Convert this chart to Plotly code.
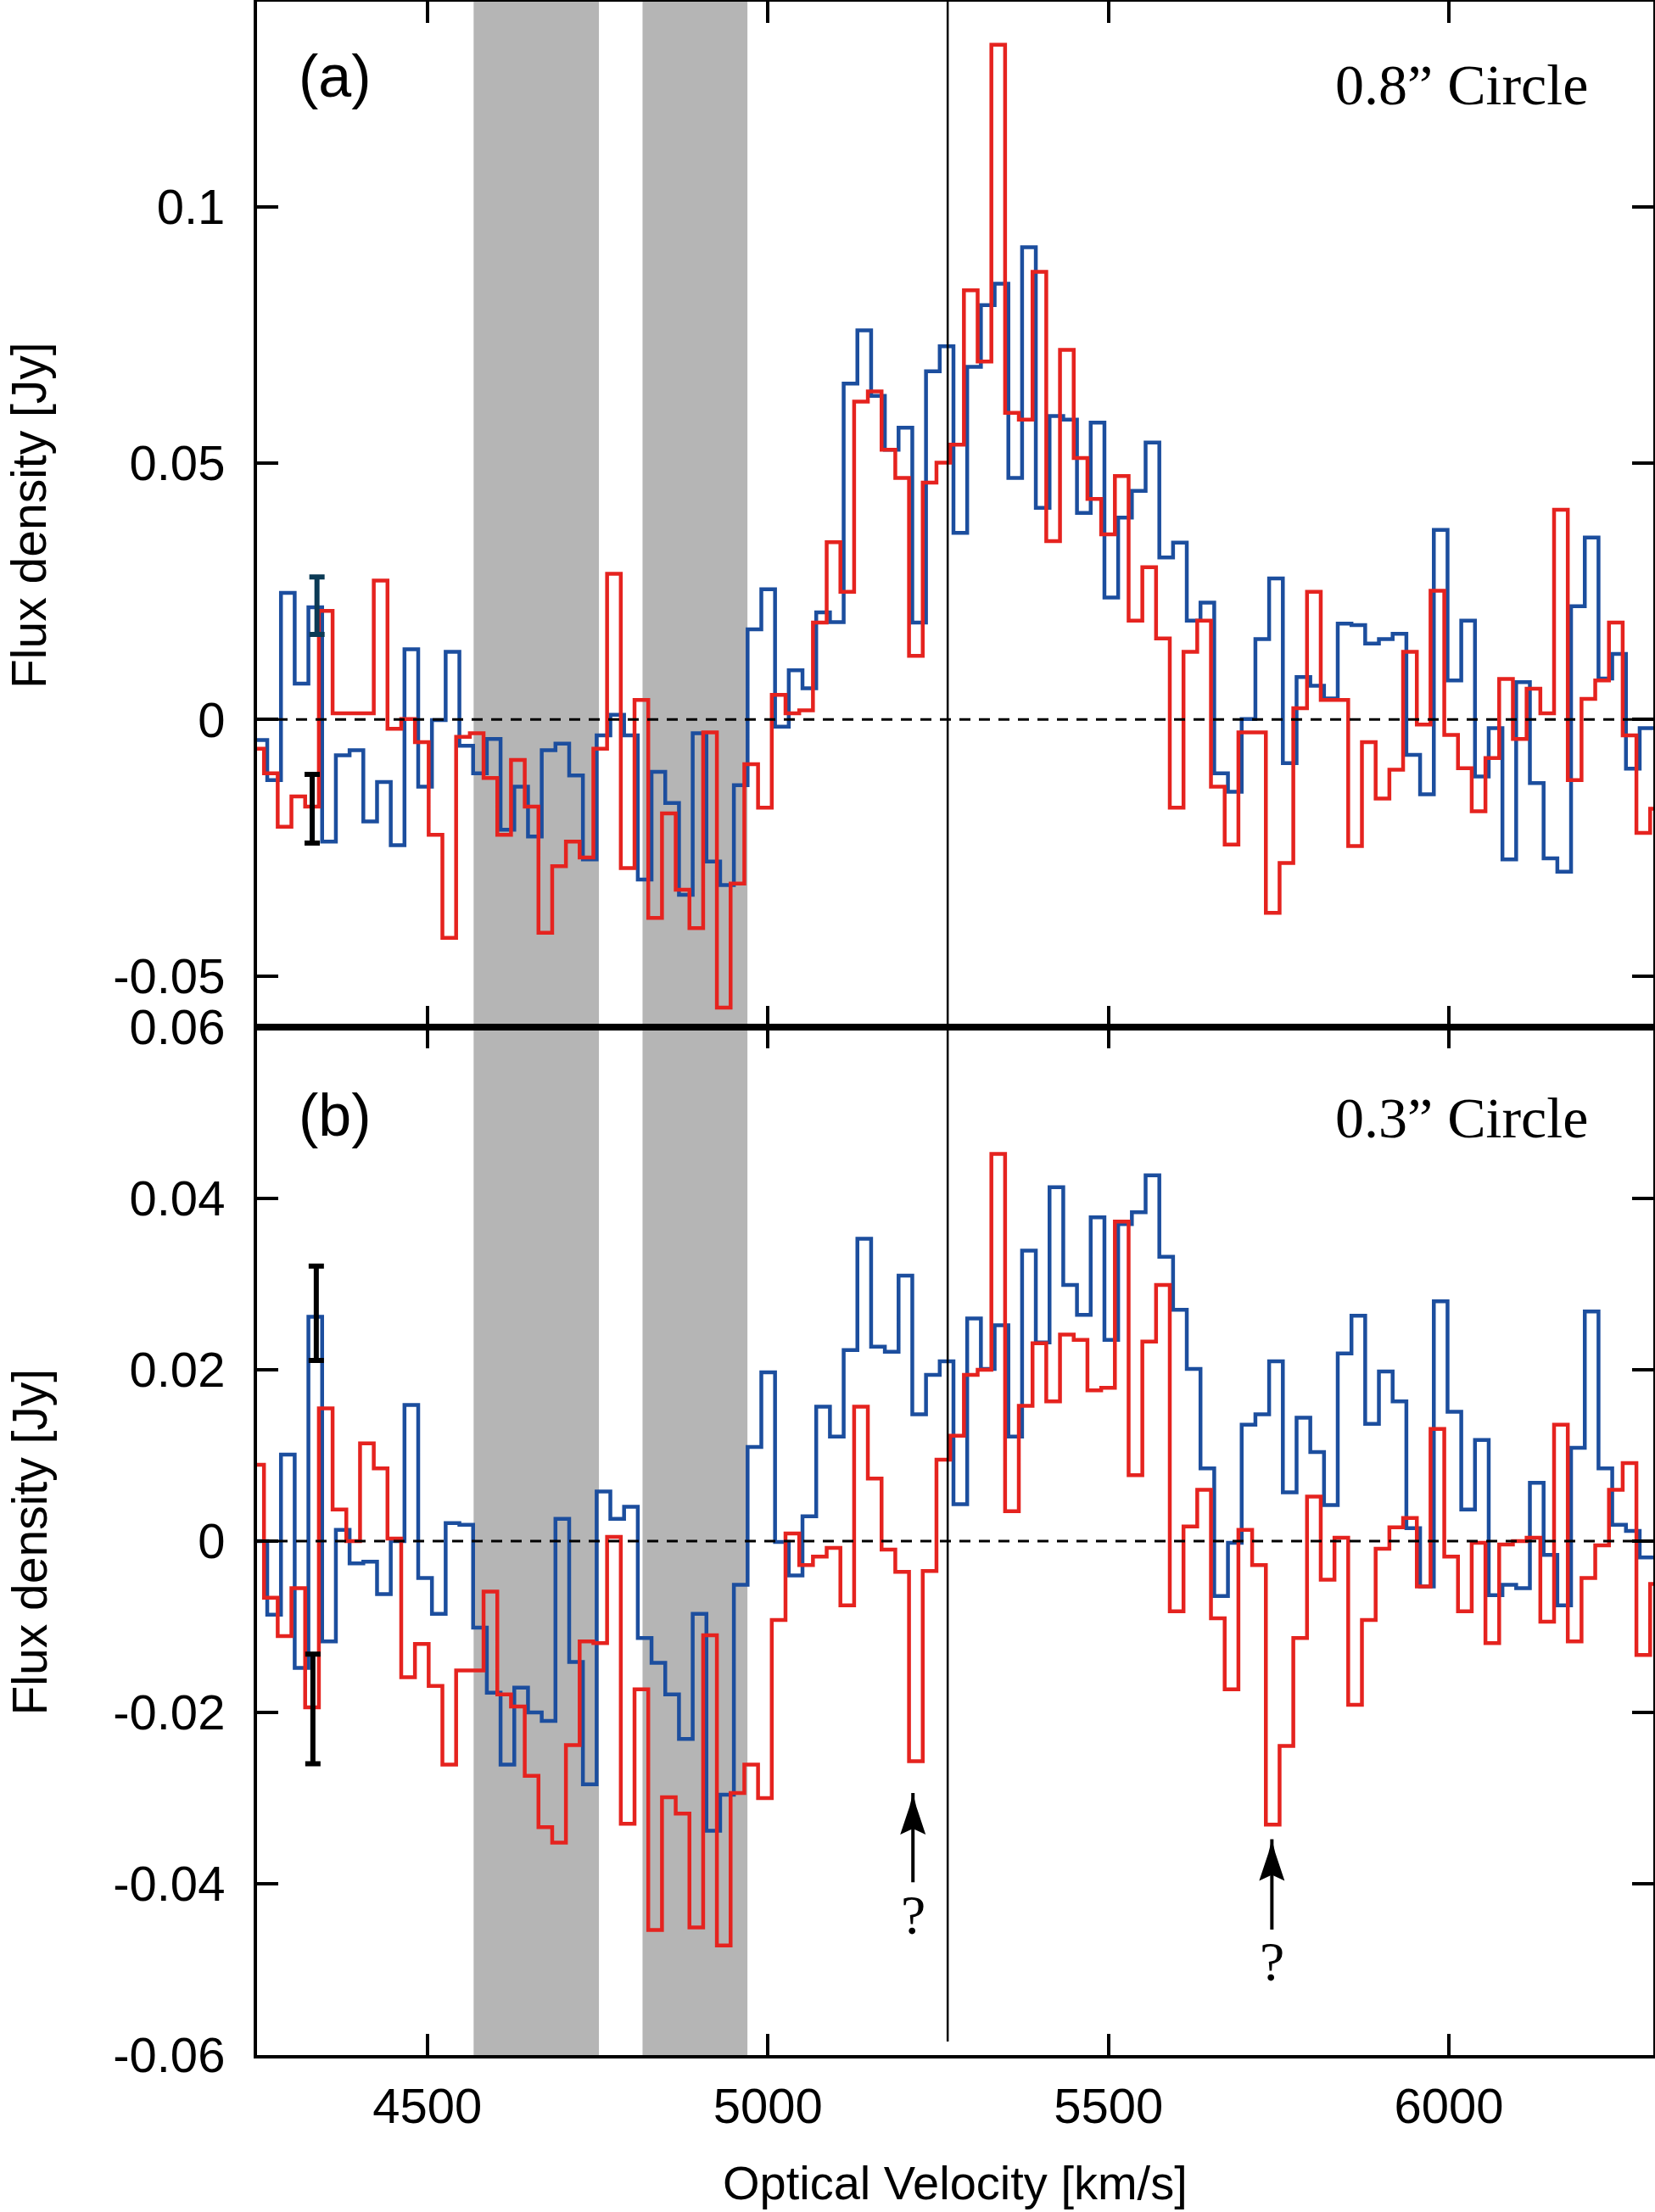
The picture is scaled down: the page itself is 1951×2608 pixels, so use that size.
import numpy as np
import plotly.graph_objects as go

# channel grid (optical velocity, km/s)
DV = 20.15
BLUE_START = 4244.85
RED_START = 4240.05

# (a) 0.8" circle
top_blue = [
    -0.0040, -0.0118, 0.0247, 0.0070, 0.0219, -0.0238, -0.0070, -0.0060, -0.0199, -0.0122,
    -0.0245, 0.0137, -0.0131, -0.0001, 0.0132, -0.0051, -0.0105, -0.0038, -0.0215, -0.0131,
    -0.0228, -0.0060, -0.0047, -0.0109, -0.0273, -0.0031, 0.0009, -0.0031, -0.0312, -0.0102,
    -0.0163, -0.0342, -0.0027, -0.0277, -0.0323, -0.0128, 0.0176, 0.0254, -0.0014, 0.0096,
    0.0061, 0.0209, 0.0190, 0.0655, 0.0759, 0.0631, 0.0526, 0.0569, 0.0189, 0.0679,
    0.0728, 0.0364, 0.0688, 0.0808, 0.0850, 0.0471, 0.0921, 0.0413, 0.0592, 0.0585,
    0.0403, 0.0579, 0.0238, 0.0394, 0.0446, 0.0540, 0.0316, 0.0345, 0.0193, 0.0228,
    -0.0105, -0.0141, 0.0001, 0.0157, 0.0275, -0.0085, 0.0083, 0.0066, 0.0041, 0.0187,
    0.0184, 0.0148, 0.0157, 0.0167, -0.0069, -0.0146, 0.0370, 0.0076, 0.0193, -0.0111,
    -0.0017, -0.0273, 0.0073, -0.0124, -0.0271, -0.0297, 0.0221, 0.0355, 0.0080, 0.0128,
    -0.0096, -0.0017,
]
top_red = [
    -0.0057, -0.0105, -0.0209, -0.0150, -0.0170, 0.0212, 0.0012, 0.0012, 0.0012, 0.0271,
    -0.0018, 0.0001, -0.0044, -0.0225, -0.0426, -0.0034, -0.0027, -0.0114, -0.0225, -0.0079,
    -0.0170, -0.0416, -0.0286, -0.0238, -0.0269, -0.0057, 0.0284, -0.0290, 0.0038, -0.0387,
    -0.0183, -0.0332, -0.0407, -0.0025, -0.0562, -0.0320, -0.0087, -0.0172, 0.0048, 0.0012,
    0.0018, 0.0189, 0.0346, 0.0249, 0.0620, 0.0640, 0.0526, 0.0471, 0.0124, 0.0462,
    0.0501, 0.0536, 0.0837, 0.0698, 0.1316, 0.0598, 0.0585, 0.0873, 0.0348, 0.0721,
    0.0510, 0.0430, 0.0361, 0.0475, 0.0193, 0.0297, 0.0158, -0.0172, 0.0132, 0.0193,
    -0.0131, -0.0244, -0.0025, -0.0025, -0.0377, -0.0280, 0.0022, 0.0249, 0.0038, 0.0038,
    -0.0247, -0.0044, -0.0154, -0.0098, 0.0132, -0.0010, 0.0251, -0.0030, -0.0095, -0.0179,
    -0.0075, 0.0079, -0.0038, 0.0060, 0.0012, 0.0409, -0.0118, 0.0040, 0.0076, 0.0189,
    -0.0031, -0.0221, -0.0174,
]

# (b) 0.3" circle
bot_blue = [
    0.0000, -0.0086, 0.0101, -0.0148, 0.0262, -0.0117, 0.0013, -0.0026, -0.0024, -0.0062,
    0.0000, 0.0159, -0.0043, -0.0085, 0.0021, 0.0019, -0.0101, -0.0177, -0.0261, -0.0171,
    -0.0200, -0.0210, 0.0026, -0.0141, -0.0284, 0.0058, 0.0026, 0.0040, -0.0113, -0.0142,
    -0.0179, -0.0231, -0.0085, -0.0338, -0.0296, -0.0051, 0.0110, 0.0197, -0.0001, -0.0040,
    0.0029, 0.0157, 0.0122, 0.0223, 0.0353, 0.0227, 0.0221, 0.0310, 0.0148, 0.0194,
    0.0210, 0.0043, 0.0260, 0.0201, 0.0252, 0.0122, 0.0339, 0.0232, 0.0413, 0.0299,
    0.0264, 0.0378, 0.0235, 0.0370, 0.0384, 0.0427, 0.0332, 0.0270, 0.0201, 0.0085,
    -0.0064, -0.0002, 0.0136, 0.0148, 0.0210, 0.0057, 0.0144, 0.0104, 0.0042, 0.0219,
    0.0263, 0.0137, 0.0198, 0.0163, 0.0015, -0.0053, 0.0280, 0.0151, 0.0037, 0.0118,
    -0.0063, -0.0051, -0.0055, 0.0068, -0.0016, -0.0075, 0.0109, 0.0268, 0.0085, 0.0019,
    0.0012, -0.0019,
]
bot_red = [
    0.0089, -0.0066, -0.0111, -0.0055, -0.0194, 0.0155, 0.0037, 0.0000, 0.0114, 0.0085,
    0.0003, -0.0159, -0.0120, -0.0169, -0.0261, -0.0151, -0.0151, -0.0059, -0.0179, -0.0193,
    -0.0274, -0.0334, -0.0352, -0.0238, -0.0117, -0.0119, 0.0005, -0.0330, -0.0173, -0.0454,
    -0.0299, -0.0318, -0.0451, -0.0110, -0.0472, -0.0294, -0.0261, -0.0300, -0.0092, 0.0009,
    -0.0028, -0.0018, -0.0008, -0.0075, 0.0157, 0.0073, -0.0010, -0.0036, -0.0257, -0.0035,
    0.0095, 0.0123, 0.0194, 0.0200, 0.0452, 0.0035, 0.0158, 0.0231, 0.0163, 0.0241,
    0.0235, 0.0176, 0.0179, 0.0373, 0.0077, 0.0233, 0.0299, -0.0082, 0.0017, 0.0060,
    -0.0090, -0.0173, 0.0013, -0.0028, -0.0331, -0.0239, -0.0113, 0.0052, -0.0045, 0.0004,
    -0.0191, -0.0092, -0.0009, 0.0016, 0.0027, -0.0053, 0.0131, -0.0018, -0.0082, -0.0002,
    -0.0119, -0.0004, 0.0000, 0.0004, -0.0094, 0.0136, -0.0117, -0.0043, -0.0005, 0.0060,
    0.0091, -0.0133, -0.0050,
]

# masked velocity ranges, systemic velocity
bands = [(4568, 4752), (4816, 4970)]
v_sys = 5264

# error bars: x, y centre, half length
top_err_x = [4338, 4331]
top_err_y = [0.0222, -0.0174]
top_err_h = [0.0056, 0.0067]
top_err_c = ["#0b3a55", "#000000"]
bot_err_x = [4337, 4332]
bot_err_y = [0.0266, -0.0196]
bot_err_h = [0.0055, 0.0064]

# "?" marks: tip of arrow and label position
q_tip_x = [5213, 5740]
q_tip_y = [-0.0294, -0.0348]
q_lab_y = [-0.0436, -0.0491]

BLUE = "#1c4e9e"
RED = "#e5231f"
SANS = "Liberation Sans, Arial, sans-serif"
SERIF = "Liberation Serif, Times New Roman, serif"

# barbed arrow head, pixels relative to the tip
HEAD = "M0,0 L-4,-16 L-15,-49 L0,-42 L15,-49 L4,-16 Z"


def steps(vals, start):
    edges = start + DV * np.arange(len(vals) + 1)
    return edges, list(vals) + [vals[-1]]


fig = go.Figure()

for vals, start, color, xa, ya in [
    (top_blue, BLUE_START, BLUE, "x2", "y2"),
    (top_red, RED_START, RED, "x2", "y2"),
    (bot_blue, BLUE_START, BLUE, "x", "y"),
    (bot_red, RED_START, RED, "x", "y"),
]:
    ex, ey = steps(vals, start)
    fig.add_trace(go.Scatter(x=ex, y=ey, mode="lines", line_shape="hv",
                             line=dict(color=color, width=4.5),
                             xaxis=xa, yaxis=ya, showlegend=False))

for i in range(2):
    fig.add_trace(go.Scatter(
        x=[top_err_x[i]], y=[top_err_y[i]], mode="markers",
        marker=dict(size=1, color="rgba(0,0,0,0)"),
        error_y=dict(type="data", array=[top_err_h[i]], color=top_err_c[i],
                     thickness=6, width=9),
        xaxis="x2", yaxis="y2", showlegend=False))
    fig.add_trace(go.Scatter(
        x=[bot_err_x[i]], y=[bot_err_y[i]], mode="markers",
        marker=dict(size=1, color="rgba(0,0,0,0)"),
        error_y=dict(type="data", array=[bot_err_h[i]], color="#000000",
                     thickness=6, width=9),
        xaxis="x", yaxis="y", showlegend=False))

shapes = []
for b0, b1 in bands:
    shapes.append(dict(type="rect", xref="x", yref="paper", x0=b0, x1=b1, y0=0, y1=1,
                       fillcolor="#b5b5b5", line=dict(width=0), layer="below"))
shapes.append(dict(type="line", xref="x", yref="paper", x0=v_sys, x1=v_sys,
                   y0=0.0066, y1=1, line=dict(color="black", width=2.5)))
for ya in ["y", "y2"]:
    shapes.append(dict(type="line", xref="paper", yref=ya, x0=0, x1=1, y0=0, y1=0,
                       line=dict(color="black", width=3, dash="13px,10px")))
for tx, ty in zip(q_tip_x, q_tip_y):
    shapes.append(dict(type="path", xref="x", yref="y", xsizemode="pixel",
                       ysizemode="pixel", xanchor=tx, yanchor=ty, path=HEAD,
                       fillcolor="black", line=dict(width=0)))

annotations = [
    dict(text="(a)", x=4308, y=0.1255, xref="x2", yref="y2", xanchor="left",
         yanchor="middle", showarrow=False, font=dict(family=SANS, size=70, color="black")),
    dict(text="(b)", x=4308, y=0.0497, xref="x", yref="y", xanchor="left",
         yanchor="middle", showarrow=False, font=dict(family=SANS, size=70, color="black")),
    dict(text="0.8\u201d Circle", x=6206, y=0.1238, xref="x2", yref="y2", xanchor="right",
         yanchor="middle", showarrow=False, font=dict(family=SERIF, size=68, color="black")),
    dict(text="0.3\u201d Circle", x=6206, y=0.0494, xref="x", yref="y", xanchor="right",
         yanchor="middle", showarrow=False, font=dict(family=SERIF, size=68, color="black")),
    dict(text="Optical Velocity [km/s]", x=0.5, y=-0.062, xref="paper", yref="paper",
         xanchor="center", yanchor="middle", showarrow=False,
         font=dict(family=SANS, size=56, color="black")),
]
for yc in [0.75, 0.25]:
    annotations.append(dict(text="Flux density [Jy]", x=-0.163, y=yc, xref="paper",
                            yref="paper", xanchor="center", yanchor="middle",
                            textangle=-90, showarrow=False,
                            font=dict(family=SANS, size=57, color="black")))
for tx, ty, ly in zip(q_tip_x, q_tip_y, q_lab_y):
    annotations.append(dict(text="?", x=tx, y=ty, ax=tx, ay=ly, xref="x", yref="y",
                            axref="x", ayref="y", showarrow=True, arrowhead=0,
                            arrowwidth=4, arrowcolor="black",
                            font=dict(family=SERIF, size=66, color="black")))

axis_common = dict(showline=True, linewidth=4, linecolor="black", mirror="ticks",
                   ticks="inside", ticklen=25, tickwidth=3.5, tickcolor="black",
                   showgrid=False, zeroline=False, automargin=False,
                   tickfont=dict(family=SANS, size=58, color="black"))

split = 1212 / 2421

fig.update_layout(
    width=1951, height=2608, autosize=False,
    margin=dict(l=303, r=2, t=2, b=185, autoexpand=False),
    plot_bgcolor="white", paper_bgcolor="white",
    shapes=shapes, annotations=annotations,
    xaxis=dict(axis_common, range=[4250, 6300], anchor="y",
               tickvals=[4500, 5000, 5500, 6000], ticklabelstandoff=6),
    xaxis2=dict(axis_common, range=[4250, 6300], anchor="y2", matches="x",
                tickvals=[4500, 5000, 5500, 6000], showticklabels=False),
    yaxis=dict(axis_common, domain=[0, split], range=[-0.06, 0.06], anchor="x",
               tickvals=[-0.06, -0.04, -0.02, 0, 0.02, 0.04, 0.06],
               ticktext=["-0.06", "-0.04", "-0.02", "0", "0.02", "0.04", "0.06"],
               ticklabelstandoff=22),
    yaxis2=dict(axis_common, domain=[split, 1], range=[-0.06, 0.14], anchor="x2",
                tickvals=[-0.05, 0, 0.05, 0.1],
                ticktext=["-0.05", "0", "0.05", "0.1"], ticklabelstandoff=22),
)

# the page body has a default 8px margin; drop it so the figure sits at the corner
fig.write_html("out.html", config={"displayModeBar": False},
               post_script="document.body.style.margin='0';")
